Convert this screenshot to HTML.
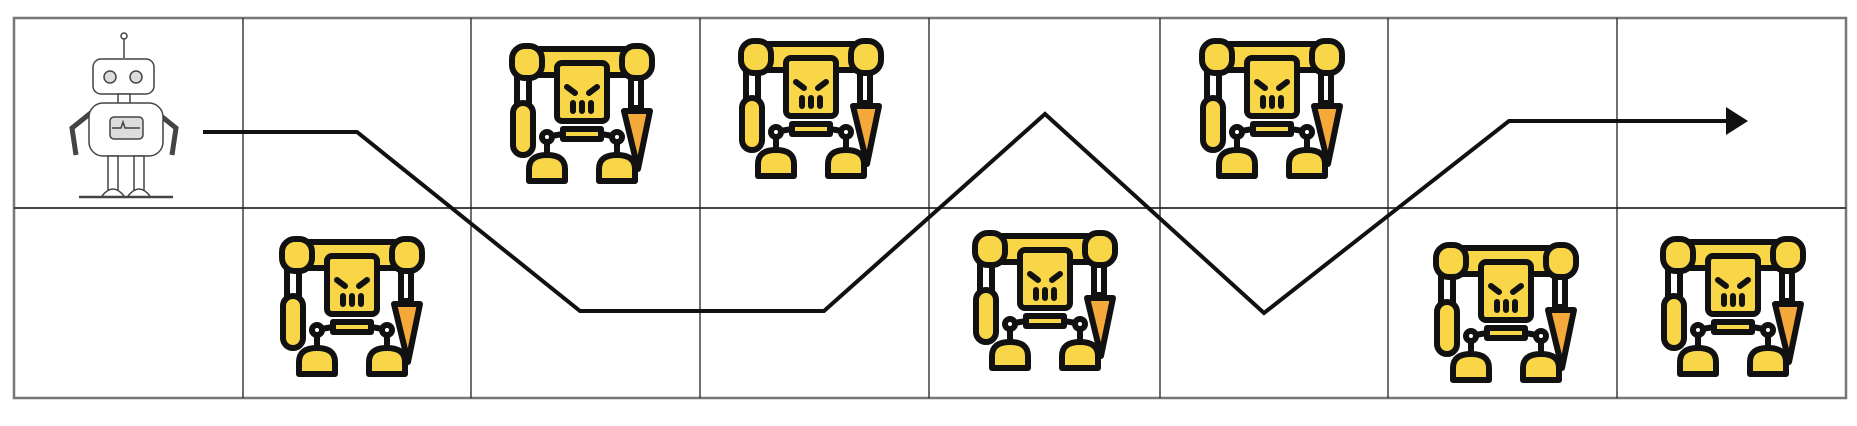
<!DOCTYPE html>
<html><head><meta charset="utf-8"><style>
html,body{margin:0;padding:0;background:#fff;}
svg{display:block;}
</style></head><body>
<svg width="1857" height="426" viewBox="0 0 1857 426">
<defs>
<g id="enemy">
 <g stroke="#111" stroke-width="6" stroke-linejoin="round" stroke-linecap="round">
  <rect x="10" y="35" width="12" height="28" fill="#fff"/>
  <rect x="6" y="62" width="20" height="52" rx="10" fill="#f9d648"/>
  <rect x="124" y="35" width="10" height="32" fill="#fff"/>
  <path d="M117 70 L143 70 L131 128 Z" fill="#f4a93a"/>
  <rect x="32" y="8" width="86" height="26" fill="#f9d648"/>
  <rect x="5" y="5" width="30" height="32" rx="13" fill="#f9d648"/>
  <rect x="115" y="5" width="30" height="32" rx="13" fill="#f9d648"/>
  <rect x="50" y="22" width="50" height="58" rx="5" fill="#f9d648"/>
  <path d="M60 46 L68 52 M90 46 L82 52 M66 62 L66 70 M75 62 L75 70 M84 62 L84 70" fill="none"/>
  <rect x="56" y="88" width="38" height="10" fill="#f9d648"/>
  <path d="M44 95 L56 93 M106 95 L94 93 M40 100 L40 114 M110 100 L110 114" fill="none"/>
  <circle cx="40" cy="96" r="5" fill="#fff"/>
  <circle cx="110" cy="96" r="5" fill="#fff"/>
  <path d="M22 140 L22 128 Q22 114 40 114 Q58 114 58 128 L58 140 Z" fill="#f9d648"/>
  <path d="M92 140 L92 128 Q92 114 110 114 Q128 114 128 128 L128 140 Z" fill="#f9d648"/>
 </g>
</g>
</defs>
<g fill="none" stroke="#222" stroke-width="1.3">
 <rect x="14" y="18" width="1832" height="380" stroke="#777" stroke-width="2.5"/>
 <line x1="14" y1="208" x2="1846" y2="208" stroke="#444" stroke-width="2"/>
 <line x1="243" y1="18" x2="243" y2="398"/>
 <line x1="471" y1="18" x2="471" y2="398"/>
 <line x1="700" y1="18" x2="700" y2="398"/>
 <line x1="929" y1="18" x2="929" y2="398"/>
 <line x1="1160" y1="18" x2="1160" y2="398"/>
 <line x1="1388" y1="18" x2="1388" y2="398"/>
 <line x1="1617" y1="18" x2="1617" y2="398"/>
</g>
<g fill="#fff" stroke="#444" stroke-width="1.5">
 <line x1="124" y1="36" x2="124" y2="58"/>
 <circle cx="124" cy="36" r="3"/>
 <rect x="93" y="59" width="61" height="35" rx="8"/>
 <circle cx="110" cy="77" r="6" fill="#ddd"/>
 <circle cx="136" cy="77" r="6" fill="#ddd"/>
 <rect x="118" y="94" width="12" height="10"/>
 <path d="M92 112 L72 128 L76 155 M156 112 L176 128 L172 155" fill="none" stroke-width="5"/>
 <rect x="89" y="103" width="74" height="53" rx="14"/>
 <rect x="110" y="117" width="33" height="22" rx="4" fill="#ddd"/>
 <path d="M112 128 L121 128 L123 122 L125 128 L140 128" fill="none"/>
 <rect x="108" y="156" width="10" height="34"/>
 <rect x="134" y="156" width="10" height="34"/>
 <path d="M102 196 Q113 182 124 196 M128 196 Q139 182 150 196"/>
 <line x1="79" y1="197" x2="173" y2="197" stroke-width="2.5"/>
</g>
<g>
 <use href="#enemy" x="507" y="41"/>
 <use href="#enemy" x="736" y="36"/>
 <use href="#enemy" x="1197" y="36"/>
 <use href="#enemy" x="277" y="234"/>
 <use href="#enemy" x="970" y="228"/>
 <use href="#enemy" x="1431" y="240"/>
 <use href="#enemy" x="1658" y="234"/>
</g>
<g>
 <polyline points="203,132 357,132 580,311 824,311 1045,114 1264,313 1509,121 1740,121" fill="none" stroke="#111" stroke-width="4" stroke-linejoin="miter"/>
 <path d="M1726 107 L1748 121 L1726 135 Z" fill="#111"/>
</g>
</svg>
</body></html>
